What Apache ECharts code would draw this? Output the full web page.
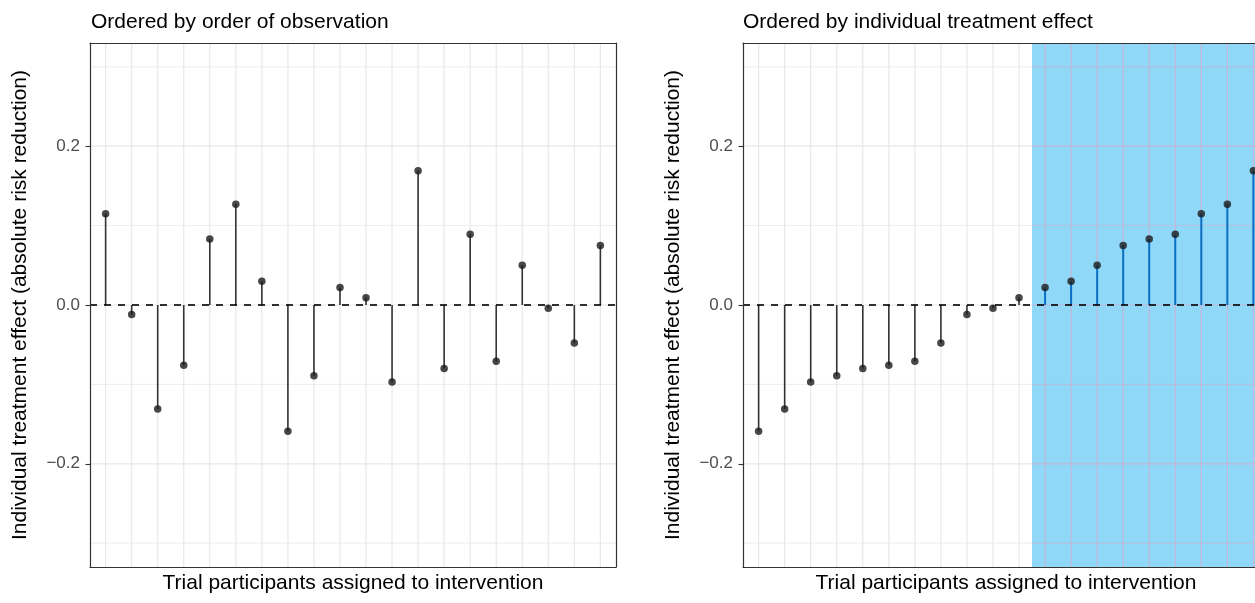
<!DOCTYPE html>
<html>
<head>
<meta charset="utf-8">
<script src="https://cdn.jsdelivr.net/npm/echarts@6/dist/echarts.min.js"></script>
<style>
html,body{margin:0;padding:0;background:#fff;}
#chart{width:1255px;height:603px;}
</style>
</head>
<body>
<div id="chart"></div>
<script>
// ---- data ----
const participants = [1,2,3,4,5,6,7,8,9,10,11,12,13,14,15,16,17,18,19,20];
const iteObserved = [0.115,-0.012,-0.131,-0.076,0.083,0.127,0.030,-0.159,-0.089,0.022,0.009,-0.097,0.169,-0.080,0.089,-0.071,0.050,-0.004,-0.048,0.075];
const iteSorted = [-0.159,-0.131,-0.097,-0.089,-0.080,-0.076,-0.071,-0.048,-0.012,-0.004,0.009,0.022,0.030,0.050,0.075,0.083,0.089,0.115,0.127,0.169];
const yTicks = [-0.2, 0.0, 0.2];
const yMinorGrid = [-0.3, -0.1, 0.1, 0.3];
const refLine = [0];
const highlightFrom = 12; // first ranked participant in shaded region
const panelTitles = ['Ordered by order of observation', 'Ordered by individual treatment effect'];
const xTitle = 'Trial participants assigned to intervention';
const yTitle = 'Individual treatment effect (absolute risk reduction)';

// ---- style ----
const FONT = '"Liberation Sans", Arial, Helvetica, sans-serif';
const X_MIN = 0.4, X_MAX = 20.6, Y_MIN = -0.33, Y_MAX = 0.33;
const GRID_GREY = '#E8E8E8', GRID_LAV = '#C4B6D9', BLUE_FILL = '#8FD8F7', BLUE_STEM = '#0A6FC4';
const STEM_DARK = '#333333', POINT = '#1A1A1A', BORDER = '#333333';

const chart = echarts.init(document.getElementById('chart'), null, {renderer:'canvas'});

const grids = [
  {left: 90, top: 43, width: 526, height: 524, outerBoundsMode:'none', containLabel:false},
  {left: 743, top: 43, width: 526, height: 524, outerBoundsMode:'none', containLabel:false}
];

function fmt(v){ return (Math.abs(v) < 1e-9 ? 0 : v).toFixed(1).replace('-', '\u2212'); }

const xAxes = [], yAxes = [];
grids.forEach((g, i) => {
  xAxes.push({
    type:'value', gridIndex:i, min:X_MIN, max:X_MAX, position:'bottom', z:10,
    axisLine:{show:true, onZero:false, lineStyle:{color:BORDER, width:1.2}},
    axisTick:{show:false}, axisLabel:{show:false}, splitLine:{show:false},
    name:xTitle, nameLocation:'middle', nameGap:6,
    nameTextStyle:{fontFamily:FONT, fontSize:21, color:'#000', verticalAlign:'top'}
  });
  xAxes.push({
    type:'value', gridIndex:i, min:X_MIN, max:X_MAX, position:'top', z:10,
    axisLine:{show:true, onZero:false, lineStyle:{color:BORDER, width:1.2}},
    axisTick:{show:false}, axisLabel:{show:false}, splitLine:{show:false}
  });
  yAxes.push({
    type:'value', gridIndex:i, min:Y_MIN, max:Y_MAX, position:'left', z:10,
    axisLine:{show:true, onZero:false, lineStyle:{color:BORDER, width:1.2}},
    axisTick:{show:true, length:4.5, customValues:yTicks, lineStyle:{color:BORDER, width:1.1}},
    axisLabel:{show:true, customValues:yTicks, formatter:fmt, margin:10,
      fontFamily:FONT, fontSize:17, color:'#4D4D4D'},
    splitLine:{show:false},
    name:yTitle, nameLocation:'middle', nameRotate:90, nameGap:59,
    nameTextStyle:{fontFamily:FONT, fontSize:21, color:'#000'}
  });
  yAxes.push({
    type:'value', gridIndex:i, min:Y_MIN, max:Y_MAX, position:'right', z:10,
    axisLine:{show:true, onZero:false, lineStyle:{color:BORDER, width:1.2}},
    axisTick:{show:false}, axisLabel:{show:false}, splitLine:{show:false}
  });
});

function seriesFor(panel, values, highlighted){
  const xi = panel*2, yi = panel*2;
  const split = highlighted ? highlightFrom - 0.5 : null;
  const out = [];
  // shaded region
  if (highlighted) {
    out.push({
      type:'custom', xAxisIndex:xi, yAxisIndex:yi, z:1, silent:true,
      data:[[highlightFrom]],
      renderItem:function(params, api){
        const a = api.coord([api.value(0) - 0.5, Y_MAX]);
        const b = api.coord([X_MAX, Y_MIN]);
        return {type:'rect', shape:{x:a[0], y:a[1], width:b[0]-a[0], height:b[1]-a[1]},
          style:{fill:BLUE_FILL}};
      }
    });
  }
  // horizontal grid lines
  const hLines = yTicks.map(v => [v, 1]).concat(yMinorGrid.map(v => [v, 0]));
  out.push({
    type:'custom', xAxisIndex:xi, yAxisIndex:yi, z:2, silent:true,
    encode:{y:0},
    data:hLines,
    renderItem:function(params, api){
      const v = api.value(0), major = api.value(1) === 1;
      const w = major ? 1.2 : 0.8;
      const p0 = api.coord([X_MIN, v]), p1 = api.coord([X_MAX, v]);
      if (split === null) {
        return {type:'line', shape:{x1:p0[0],y1:p0[1],x2:p1[0],y2:p1[1]}, style:{stroke:GRID_GREY, lineWidth:w}};
      }
      const pm = api.coord([split, v]);
      return {type:'group', children:[
        {type:'line', shape:{x1:p0[0],y1:p0[1],x2:pm[0],y2:pm[1]}, style:{stroke:GRID_GREY, lineWidth:w}},
        {type:'line', shape:{x1:pm[0],y1:pm[1],x2:p1[0],y2:p1[1]}, style:{stroke:GRID_LAV, lineWidth:w}}
      ]};
    }
  });
  // vertical grid lines
  out.push({
    type:'custom', xAxisIndex:xi, yAxisIndex:yi, z:2, silent:true,
    data:participants.map(p => [p]),
    renderItem:function(params, api){
      const x = api.value(0);
      const p0 = api.coord([x, Y_MAX]), p1 = api.coord([x, Y_MIN]);
      const c = (split !== null && x > split) ? GRID_LAV : GRID_GREY;
      return {type:'line', shape:{x1:p0[0],y1:p0[1],x2:p1[0],y2:p1[1]}, style:{stroke:c, lineWidth:1.2}};
    }
  });
  // stems
  out.push({
    type:'custom', xAxisIndex:xi, yAxisIndex:yi, z:3, silent:true,
    data:participants.map((p, k) => [p, values[k]]),
    renderItem:function(params, api){
      const x = api.value(0), y = api.value(1);
      const p0 = api.coord([x, 0]), p1 = api.coord([x, y]);
      const blue = split !== null && x > split;
      return {type:'line', shape:{x1:p0[0],y1:p0[1],x2:p1[0],y2:p1[1]},
        style:{stroke: blue ? BLUE_STEM : STEM_DARK, lineWidth: blue ? 2 : 1.6}};
    }
  });
  // dashed zero reference line
  out.push({
    type:'custom', xAxisIndex:xi, yAxisIndex:yi, z:4, silent:true,
    encode:{y:0},
    data:refLine.map(v => [v]),
    renderItem:function(params, api){
      const v = api.value(0);
      const p0 = api.coord([X_MIN, v]), p1 = api.coord([X_MAX, v]);
      return {type:'line', shape:{x1:p0[0],y1:p0[1],x2:p1[0],y2:p1[1]},
        style:{stroke:'#000', lineWidth:1.6, lineDash:[7,7]}};
    }
  });
  // points
  out.push({
    type:'scatter', xAxisIndex:xi, yAxisIndex:yi, z:5, silent:true,
    symbol:'circle', symbolSize:7.5,
    itemStyle:{color:POINT},
    data:participants.map((p, k) => [p, values[k]])
  });
  return out;
}

const option = {
  animation:false,
  backgroundColor:'#ffffff',
  title: panelTitles.map((t, i) => ({
    text:t, left: i === 0 ? 91 : 743, top:12, padding:0,
    textStyle:{fontFamily:FONT, fontSize:21, fontWeight:'normal', color:'#000'}
  })),
  grid: grids,
  xAxis: xAxes,
  yAxis: yAxes,
  series: seriesFor(0, iteObserved, false).concat(seriesFor(1, iteSorted, true))
};
chart.setOption(option);
</script>
</body>
</html>
